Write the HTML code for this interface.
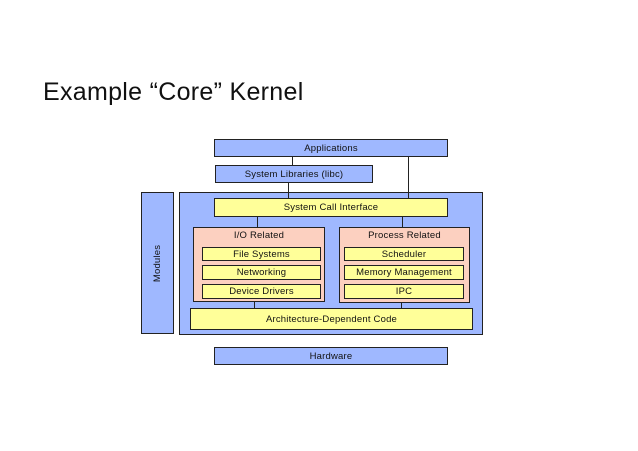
<!DOCTYPE html>
<html><head><meta charset="utf-8"><style>
body{margin:0;width:638px;height:451px;background:#fff;position:relative;overflow:hidden;font-family:"Liberation Sans",sans-serif}
.b{position:absolute;box-sizing:border-box;border:1px solid #222;display:flex;align-items:center;justify-content:center;font-size:9.5px;color:#111;letter-spacing:0.2px}
.bl{background:#9fb8ff}.y{background:#ffff99}.p{background:#fcd0c0}
.l{position:absolute;width:1px;background:#222}
</style></head><body>
<div style="position:absolute;left:43px;top:78px;font-size:25px;letter-spacing:0.3px;color:#111;white-space:nowrap">Example “Core” Kernel</div>
<div class="b bl" style="left:179px;top:192px;width:304px;height:143px"></div>
<div class="b bl" style="left:141px;top:192px;width:33px;height:142px"><span style="transform:rotate(-90deg);white-space:nowrap">Modules</span></div>
<div class="b bl" style="left:214px;top:139px;width:234px;height:18px">Applications</div>
<div class="b bl" style="left:215px;top:165px;width:158px;height:18px">System Libraries (libc)</div>
<div class="b y" style="left:214px;top:198px;width:234px;height:19px">System Call Interface</div>
<div class="b p" style="left:193px;top:227px;width:132px;height:75px;align-items:flex-start;padding-top:2px">I/O Related</div>
<div class="b p" style="left:339px;top:227px;width:131px;height:76px;align-items:flex-start;padding-top:2px">Process Related</div>
<div class="b y" style="left:202px;top:247px;width:119px;height:14px">File Systems</div>
<div class="b y" style="left:202px;top:265px;width:119px;height:15px">Networking</div>
<div class="b y" style="left:202px;top:284px;width:119px;height:15px">Device Drivers</div>
<div class="b y" style="left:344px;top:247px;width:120px;height:14px">Scheduler</div>
<div class="b y" style="left:344px;top:265px;width:120px;height:15px">Memory Management</div>
<div class="b y" style="left:344px;top:284px;width:120px;height:15px">IPC</div>
<div class="b y" style="left:190px;top:308px;width:283px;height:22px">Architecture-Dependent Code</div>
<div class="b bl" style="left:214px;top:347px;width:234px;height:18px">Hardware</div>
<div class="l" style="left:292px;top:157px;height:8px"></div>
<div class="l" style="left:288px;top:183px;height:15px"></div>
<div class="l" style="left:408px;top:157px;height:41px"></div>
<div class="l" style="left:257px;top:217px;height:10px"></div>
<div class="l" style="left:402px;top:217px;height:10px"></div>
<div class="l" style="left:254px;top:302px;height:6px"></div>
<div class="l" style="left:401px;top:303px;height:5px"></div>
</body></html>
